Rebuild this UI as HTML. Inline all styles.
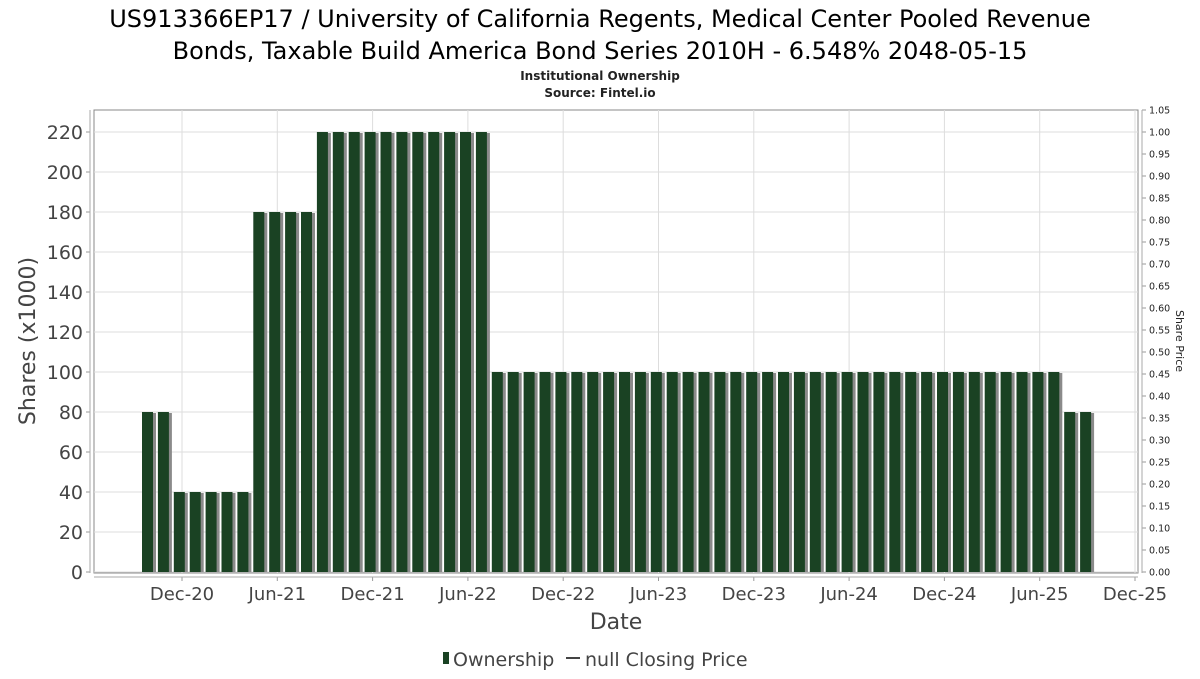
<!DOCTYPE html>
<html><head><meta charset="utf-8"><style>
body{margin:0;background:#fff;font-family:"DejaVu Sans","Liberation Sans",sans-serif;}
</style></head><body>
<svg id="chart" width="1200" height="675" xmlns="http://www.w3.org/2000/svg" font-family="DejaVu Sans, Liberation Sans, sans-serif">
<text x="600" y="27" text-anchor="middle" font-size="24" fill="#000">US913366EP17 / University of California Regents, Medical Center Pooled Revenue</text>
<text x="600" y="59" text-anchor="middle" font-size="24" fill="#000">Bonds, Taxable Build America Bond Series 2010H - 6.548% 2048-05-15</text>
<text x="600" y="80" text-anchor="middle" font-size="12" font-weight="bold" fill="#222">Institutional Ownership</text>
<text x="600" y="97" text-anchor="middle" font-size="12" font-weight="bold" fill="#222">Source: Fintel.io</text>
<rect x="94" y="110" width="1044" height="463" fill="#fff" stroke="#888"/>
<g id="grid"></g><g id="bars"></g><g id="axes"></g>
<text transform="translate(35,341) rotate(-90)" text-anchor="middle" font-size="22" fill="#444">Shares (x1000)</text>
<text transform="translate(1176,341) rotate(90)" text-anchor="middle" font-size="11" fill="#222">Share Price</text>
<text x="616" y="629" text-anchor="middle" font-size="22" fill="#444">Date</text>
<g>
<rect x="443" y="652" width="6" height="12" fill="#1a4223"/>
<text x="453" y="666" font-size="19" fill="#444">Ownership</text>
<line x1="566" y1="658" x2="580" y2="658" stroke="#444" stroke-width="2"/>
<text x="585" y="666" font-size="19" fill="#444">null Closing Price</text>
</g>
</svg>
<script>
const values=[80,80,40,40,40,40,40,180,180,180,180,220,220,220,220,220,220,220,220,220,220,220,
100,100,100,100,100,100,100,100,100,100,100,100,100,100,100,100,100,100,100,100,100,100,100,100,100,100,100,100,100,100,100,100,100,100,100,100,80,80];
const yTicks=[0,20,40,60,80,100,120,140,160,180,200,220];
const y2Ticks=[0,0.05,0.1,0.15,0.2,0.25,0.3,0.35,0.4,0.45,0.5,0.55,0.6,0.65,0.7,0.75,0.8,0.85,0.9,0.95,1.0,1.05];
const xLabels=["Dec-20","Jun-21","Dec-21","Jun-22","Dec-22","Jun-23","Dec-23","Jun-24","Dec-24","Jun-25","Dec-25"];
const NS="http://www.w3.org/2000/svg";
const y=v=>572-v*2;
const y2=v=>572-v*440;
const xBar=i=>142+i*15.9;
const xTick=i=>182+i*95.3;
function mk(tag,attrs,parent,text){const e=document.createElementNS(NS,tag);for(const k in attrs)e.setAttribute(k,attrs[k]);if(text!==undefined)e.textContent=text;parent.appendChild(e);return e;}
const grid=document.getElementById('grid'),bars=document.getElementById('bars'),axes=document.getElementById('axes');
yTicks.forEach(v=>{
 const l=mk('line',{x1:94,x2:1138,y1:y(v),y2:y(v),stroke:'#ddd'},grid);
 
 
 const t=mk('line',{x1:86,x2:90,y1:y(v),y2:y(v),stroke:'#999'},axes);
 
 
 const tx=mk('text',{x:83,y:y(v)+7,'text-anchor':'end','font-size':19,fill:'#444'},axes,String(v));
 
 
});
xLabels.forEach((s,i)=>{
 const l=mk('line',{x1:xTick(i),x2:xTick(i),y1:110,y2:573,stroke:'#ddd'},grid);
 
 
 const t=mk('line',{x1:xTick(i),x2:xTick(i),y1:577,y2:581,stroke:'#999'},axes);
 
 
 const tx=mk('text',{x:xTick(i),y:600,'text-anchor':'middle','font-size':18,fill:'#444'},axes,s);
 
 
});
y2Ticks.forEach(v=>{
 const t=mk('line',{x1:1142,x2:1146,y1:y2(v),y2:y2(v),stroke:'#999'},axes);
 
 
 const tx=mk('text',{x:1149,y:y2(v)+3.5,'font-size':9.5,fill:'#222'},axes,v.toFixed(2));
 
 
});
const la=mk('line',{x1:90,x2:90,y1:110,y2:573,stroke:'#aaa'},axes);


const ra=mk('line',{x1:1142,x2:1142,y1:110,y2:573,stroke:'#aaa'},axes);


const xa=mk('line',{x1:94,x2:1138,y1:577,y2:577,stroke:'#aaa'},axes);


values.forEach((v,i)=>{
 const sh=mk('rect',{x:xBar(i)+3,y:y(v)+1,width:11,height:572-y(v)-1,fill:'#8a8a8a'},bars);
 
 
 const b=mk('rect',{x:xBar(i),y:y(v),width:11,height:572-y(v),fill:'#1a4223'},bars);
 
 
});
</script>
</body></html>
